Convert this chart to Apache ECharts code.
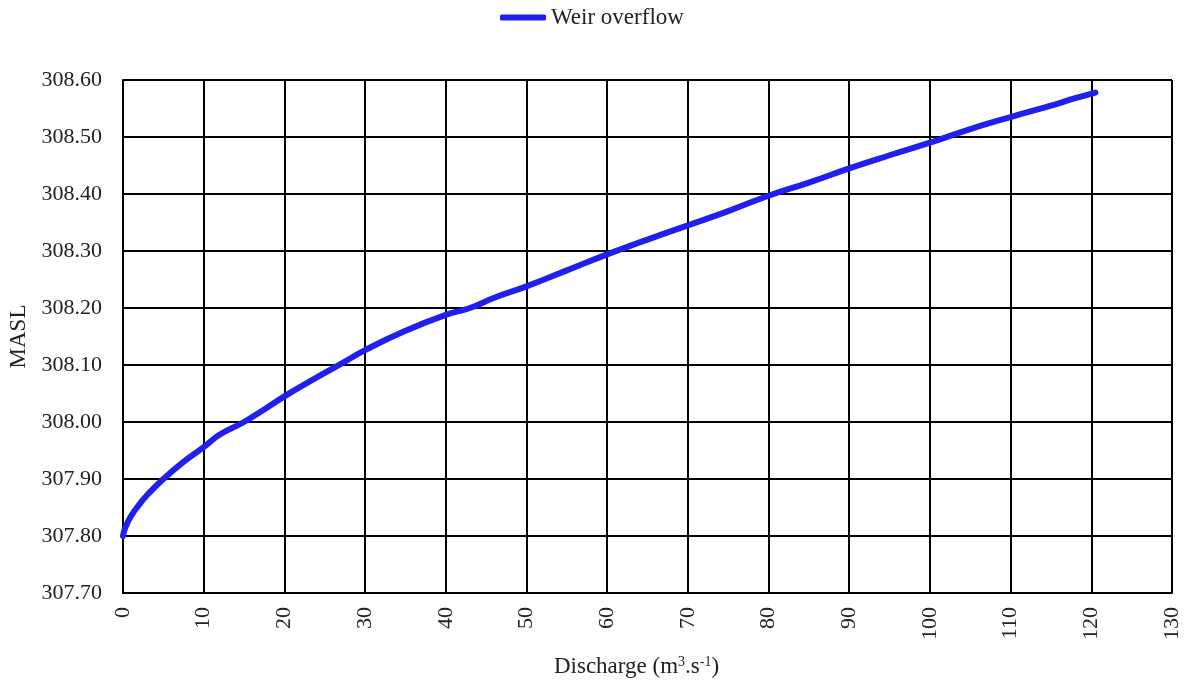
<!DOCTYPE html>
<html><head><meta charset="utf-8">
<script src="https://cdn.jsdelivr.net/npm/echarts@6/dist/echarts.min.js"></script>
<style>html,body{margin:0;padding:0;background:#fff}#c{width:1186px;height:684px}</style>
</head><body><div id="c"></div>
<script>
const discharge = [0, 0.3, 1, 2, 3, 5, 7.5, 10, 12, 15, 17.5, 20, 22.5, 25, 27.5, 30, 35, 40, 43, 46, 50, 55, 60, 65, 70, 75, 80, 85, 90, 95, 100, 105, 110, 115, 118, 120.5];
const masl = [307.80, 307.815, 307.835, 307.855, 307.872, 307.90, 307.93, 307.956, 307.978, 308.00, 308.022, 308.045, 308.066, 308.086, 308.106, 308.126, 308.16, 308.188, 308.20, 308.218, 308.238, 308.266, 308.294, 308.32, 308.345, 308.37, 308.397, 308.42, 308.445, 308.468, 308.49, 308.514, 308.535, 308.555, 308.568, 308.578];
const seriesName = 'Weir overflow';
const xTitle = 'Discharge (m{sup|3}.s{sup|-1})';
const yTitle = 'MASL';

const chart = echarts.init(document.getElementById('c'), null, {renderer:'canvas'});
const font = 'Liberation Serif';
chart.setOption({
  animation:false,
  backgroundColor:'#fff',
  textStyle:{fontFamily:font},
  legend:{top:1, left:495, itemWidth:46, itemHeight:6, itemGap:2,
    textStyle:{fontFamily:font, fontSize:23, color:'#222'},
    data:[{name:seriesName, icon:'roundRect'}]},
  grid:{left:123, right:14, top:80, bottom:91, outerBoundsMode:'none', containLabel:false},
  xAxis:{type:'value', min:0, max:130, interval:10,
    name:xTitle, nameLocation:'middle', nameGap:62,
    nameTextStyle:{fontFamily:font, fontSize:23, color:'#222', padding:[0,22,0,0],
      rich:{sup:{fontFamily:font, fontSize:14, verticalAlign:'top', color:'#222', padding:[0,0,10,0]}}},
    axisLine:{show:true, lineStyle:{color:'#000', width:2}},
    axisTick:{show:false},
    axisLabel:{rotate:90, fontFamily:font, fontSize:22, color:'#222', margin:14},
    splitLine:{show:true, lineStyle:{color:'#000', width:2}}},
  yAxis:{type:'value', min:307.70, max:308.60, interval:0.1,
    name:yTitle, nameLocation:'middle', nameGap:93, nameRotate:90,
    nameTextStyle:{fontFamily:font, fontSize:23, color:'#222'},
    axisLine:{show:true, lineStyle:{color:'#000', width:2}},
    axisTick:{show:false},
    axisLabel:{fontFamily:font, fontSize:22, color:'#222', margin:21, formatter:v=>v.toFixed(2)},
    splitLine:{show:true, lineStyle:{color:'#000', width:2}}},
  series:[{name:seriesName, type:'line', smooth:true, showSymbol:false,
    data:discharge.map((x,i)=>[x, masl[i]]),
    lineStyle:{color:'#2020EE', width:6, cap:'round'}, itemStyle:{color:'#2020EE'}}]
});
</script></body></html>
